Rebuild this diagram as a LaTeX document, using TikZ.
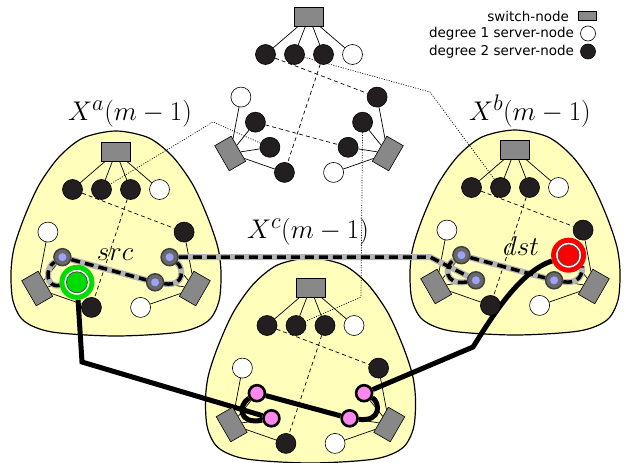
\documentclass[tikz,border=0pt]{standalone}
\usepackage{fontspec}
\newfontfamily\legendfont{DejaVu Sans}
\usetikzlibrary{positioning}

\definecolor{blobcolor}{RGB}{255,255,187}
\definecolor{switchcolor}{RGB}{136,136,136}
\definecolor{servercolor}{RGB}{35,31,32}
\definecolor{hopcolor}{RGB}{105,105,105}
\definecolor{hopcentercolor}{RGB}{160,160,255}
\definecolor{pinkcolor}{RGB}{255,136,238}
\definecolor{srccolor}{RGB}{0,220,0}
\definecolor{dstcolor}{RGB}{255,0,0}
\definecolor{routecolor}{RGB}{180,180,180}

\pgfdeclarelayer{blobs}
\pgfdeclarelayer{links}
\pgfsetlayers{blobs,links,main}

% one switch with its four servers, turned by #2
\newcommand{\drawgroup}[4]{%
  \begin{scope}[rotate=#2]
    \node[switchstyle,rotate=#2] (#1-sw) at (0,-91) {};
    \node[deg2style] (#1-1) at (-43.5,-53.5) {};
    \node[#3] (#1-2) at (-14.5,-53.5) {};
    \node[#4] (#1-3) at (14.5,-53.5) {};
    \node[deg1style] (#1-4) at (43.5,-53.5) {};
  \end{scope}
  \begin{pgfonlayer}{links}
    \foreach \i in {1,...,4} \draw[wirestyle] (#1-sw) -- (#1-\i);
  \end{pgfonlayer}
}

% X(m-1): three groups
\newcommand{\drawunit}[7]{%
  \begin{scope}[shift={(#2,#3)}]
    \drawgroup{#1-t}{0}{deg2style}{deg2style}
    \drawgroup{#1-l}{120}{#4}{#5}
    \drawgroup{#1-r}{-120}{#6}{#7}
  \end{scope}
  \begin{pgfonlayer}{links}
    \draw[linkstyle] (#1-t-1) -- (#1-r-1);
    \draw[linkstyle] (#1-t-3) -- (#1-l-1);
    \draw[linkstyle] (#1-l-3) -- (#1-r-3);
  \end{pgfonlayer}
}

\newcommand{\drawblob}[2]{%
  \begin{pgfonlayer}{blobs}
    \begin{scope}[shift={(#1,#2)}]
      \draw[blobstyle] plot[smooth cycle] coordinates {(0,-112) (-33,-105) (-57,-86) (-77,-58) (-92,-25) (-102,5) (-105,30) (-103,58) (-92,78) (-64,89) (0,93) (64,89) (92,78) (103,58) (105,30) (102,5) (92,-25) (77,-58) (57,-86) (33,-105)};
    \end{scope}
  \end{pgfonlayer}
}

\begin{document}
\begin{tikzpicture}[x=1pt,y=-1pt
,blobstyle/.style={draw=black,fill=blobcolor,line width=1.2pt}
,switchstyle/.style={rectangle,draw=black,fill=switchcolor,line width=0.6pt,minimum width=29pt,minimum height=19pt,inner sep=0}
,deg1style/.style={circle,draw=black,fill=white,line width=0.6pt,minimum size=20pt,inner sep=0}
,deg2style/.style={circle,draw=black,fill=servercolor,line width=0.6pt,minimum size=20pt,inner sep=0}
,hopstyle/.style={circle,draw=black!75,fill=hopcolor,line width=1.5pt,minimum size=17pt,inner sep=0,path picture={\fill[hopcentercolor] (path picture bounding box.center) circle (4pt);}}
,pinkstyle/.style={circle,draw=black,fill=pinkcolor,line width=2.6pt,minimum size=16pt,inner sep=0}
,srcstyle/.style={circle,draw=srccolor,fill=white,line width=5pt,minimum size=30pt,inner sep=0,path picture={\filldraw[fill=srccolor,draw=black!70,line width=0.8pt] (path picture bounding box.center) circle (10.5pt);}}
,dststyle/.style={circle,draw=dstcolor,fill=white,line width=5pt,minimum size=30pt,inner sep=0,path picture={\filldraw[fill=dstcolor,draw=black!70,line width=0.8pt] (path picture bounding box.center) circle (10.5pt);}}
,wirestyle/.style={draw=black,line width=0.7pt}
,linkstyle/.style={draw=black,line width=0.7pt,dash pattern=on 4pt off 3pt}
,uplinkstyle/.style={draw=black,line width=0.7pt,dash pattern=on 1pt off 1.5pt}
,routestyle/.style={draw=routecolor,line width=6pt,postaction={draw=black,line width=3.5pt,dash pattern=on 9pt off 5pt}}
,pathstyle/.style={draw=black,line width=5pt}
,labelstyle/.style={anchor=base,inner sep=0,scale=1.085,font=\fontsize{24.88}{28}\selectfont}
,legendstyle/.style={inner sep=0,font=\legendfont\fontsize{13.5}{15}\selectfont}
]
\useasboundingbox (0,0) rectangle (624,463);

\drawblob{116}{243}
\drawblob{515}{242}
\drawblob{310.5}{370}

\drawunit{T}{309}{108}{deg2style}{deg2style}{deg2style}{deg2style}
\drawunit{a}{116}{243}{srcstyle}{hopstyle}{hopstyle}{hopstyle}
\drawunit{b}{515}{241}{hopstyle}{hopstyle}{dststyle}{hopstyle}
\drawunit{c}{310.5}{379}{pinkstyle}{pinkstyle}{pinkstyle}{pinkstyle}

\node[labelstyle] (xa) at (130,120) {$X^a(m-1)$};
\node[labelstyle] (xb) at (530,120) {$X^b(m-1)$};
\node[labelstyle] (xc) at (308,238) {$X^c(m-1)$};
\node[labelstyle] (srclabel) at (115,260) {$src$};
\node[labelstyle] (dstlabel) at (521,255) {$dst$};

\begin{pgfonlayer}{links}
\draw[uplinkstyle] (T-t-2) -- (430,92) -- (b-t-2);
\draw[uplinkstyle] (T-l-2) -- (213,122) -- (a-t-2);
\draw[uplinkstyle] (T-r-2) -- (361,297) -- (c-t-2);
\draw[routestyle] (a-l-2) .. controls (45,288) and (45,268) .. (a-l-3) -- (a-r-3) .. controls (186,287) and (183,267) .. (a-r-2) -- (430,257) -- (b-l-2) .. controls (444,286) and (444,266) .. (b-l-3) -- (b-r-3) .. controls (585,285) and (582,266) .. (b-r-2);
\draw[pathstyle] (a-l-2) -- (82,362) -- (c-l-2) .. controls (238,425) and (238,405) .. (c-l-3) -- (c-r-3) .. controls (382,422) and (380,402) .. (c-r-2) -- (473,347) .. controls (495,312) and (520,272) .. (b-r-2);
\end{pgfonlayer}

% legend
\node[switchstyle,minimum width=18pt,minimum height=9pt] (lgsw) at (587.5,16) {};
\node[deg1style,minimum size=15pt] (lgdeg1) at (588,33.5) {};
\node[deg2style,minimum size=15pt] (lgdeg2) at (588,51.5) {};
\node[legendstyle,left=9pt of lgsw] {switch-node};
\node[legendstyle,left=6pt of lgdeg1] {degree 1 server-node};
\node[legendstyle,left=6pt of lgdeg2] {degree 2 server-node};
\end{tikzpicture}
\end{document}
